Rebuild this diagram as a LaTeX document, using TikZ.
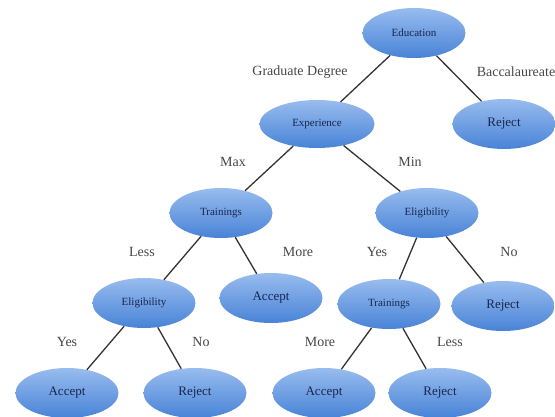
\documentclass[tikz,border=0pt]{standalone}
\usepackage{fontspec}
\setmainfont{Liberation Serif}
\usetikzlibrary{shapes.geometric}
\definecolor{ndtop}{RGB}{152,188,238}
\definecolor{ndbot}{RGB}{72,131,215}
\definecolor{ndtxt}{RGB}{24,38,78}
\definecolor{lbtxt}{RGB}{70,70,70}
\tikzset{dtp/.style={
  x=1pt,
  y=-1pt
}}
\tikzset{dtn/.style={
  shape=ellipse,
  top color=ndtop,
  bottom color=ndbot,
  draw=none,
  inner sep=0pt,
  minimum width=103pt,
  minimum height=50pt,
  text=ndtxt,
  font=\fontsize{11}{13}\selectfont,
}}
\tikzset{lfn/.style={
  dtn,
  font=\fontsize{13}{15}\selectfont,
}}
\tikzset{lbl/.style={
  text=lbtxt,
  font=\fontsize{14}{16}\selectfont,
}}
\tikzset{edg/.style={
  draw=black!80,
  line width=1.3pt,
}}

\begin{document}
\begin{tikzpicture}[dtp]

    \useasboundingbox (0,0) rectangle (555,416);

    %% Nodes

    % Top levels
    \node[dtn] (edu) at (414,33) {Education};
    \node[dtn,minimum width=115pt,minimum height=48pt] (exp) at (317,124) {Experience};
    \node[lfn] (rjA) at (504,124) {Reject};
    \node[dtn] (trA) at (221,213) {Trainings};
    \node[dtn] (elA) at (427,213) {Eligibility};

    % Third level
    \node[dtn] (elB) at (144,303) {Eligibility};
    \node[lfn] (acA) at (271,298) {Accept};
    \node[dtn] (trB) at (389,304) {Trainings};
    \node[lfn] (rjB) at (503,306) {Reject};

    % Leaves
    \node[lfn] (acB) at (67,393) {Accept};
    \node[lfn] (rjC) at (195,393) {Reject};
    \node[lfn] (acC) at (324,393) {Accept};
    \node[lfn] (rjD) at (440,393) {Reject};

    %% Branches

    \draw[edg] (edu) -- (exp);
    \draw[edg] (edu) -- (rjA);
    \draw[edg] (exp) -- (trA);
    \draw[edg] (exp) -- (elA);
    \draw[edg] (trA) -- (elB);
    \draw[edg] (trA) -- (acA);
    \draw[edg] (elA) -- (trB);
    \draw[edg] (elA) -- (rjB);
    \draw[edg] (elB) -- (acB);
    \draw[edg] (elB) -- (rjC);
    \draw[edg] (trB) -- (acC);
    \draw[edg] (trB) -- (rjD);

    %% Branch labels

    \node[lbl] (lgd) at (300,72) {Graduate Degree};
    \node[lbl] (lbc) at (516,72) {Baccalaureate};
    \node[lbl] (lmx) at (233,162) {Max};
    \node[lbl] (lmn) at (410,162) {Min};
    \node[lbl] (lls) at (142,252) {Less};
    \node[lbl] (lmr) at (298,252) {More};
    \node[lbl] (lys) at (377,252) {Yes};
    \node[lbl] (lno) at (509,252) {No};
    \node[lbl] (lyb) at (67,342) {Yes};
    \node[lbl] (lnb) at (201,342) {No};
    \node[lbl] (lmb) at (320,342) {More};
    \node[lbl] (llb) at (450,342) {Less};

  \end{tikzpicture}
\end{document}
